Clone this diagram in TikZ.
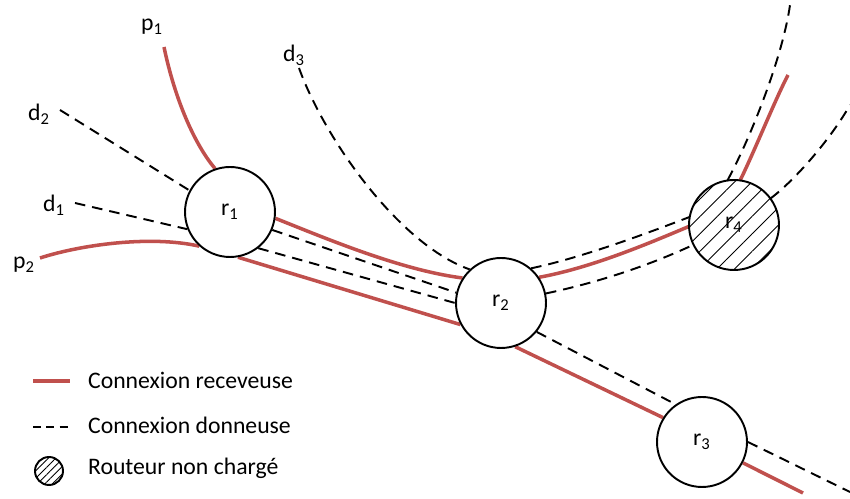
\documentclass[tikz,border=0pt]{standalone}
\usepackage{fontspec}
\setmainfont{Carlito}
\usetikzlibrary{patterns.meta,backgrounds}
\definecolor{recvred}{RGB}{192,80,77}
\def\sub#1#2{#1\textsubscript{#2}}
\tikzset{
  router/.style={circle, draw, line width=1.1pt, fill=white, minimum size=1.8cm, inner sep=0pt, font=\fontsize{13.5}{16}\selectfont},
  hatched/.style={preaction={fill=white}, pattern={Lines[angle=45,distance=#1,line width=0.5pt]}},
  recv/.style={recvred, line width=2pt},
  donor/.style={line width=1.1pt, dash pattern=on 6pt off 4pt},
  lbl/.style={font=\fontsize{13.5}{16}\selectfont, inner sep=1pt}
}

\begin{document}
\begin{tikzpicture}[x=0.02cm, y=-0.02cm]
		%%%%% START %%%%%
		\useasboundingbox (0,0) rectangle (850,499);
		
		% routeurs
		\node[router] (r1) at (230,212) {\sub{r}{1}};
		\node[router] (r2) at (501,303) {\sub{r}{2}};
		\node[router] (r3) at (702,442) {\sub{r}{3}};
		\node[router, hatched=7pt] (r4) at (734,225) {\sub{r}{4}};
		
		% bouts libres
		\coordinate (p1) at (164,47);
		\coordinate (p2) at (40,258);
		\coordinate (d1) at (75,203);
		\coordinate (d2) at (60,110);
		\coordinate (d3) at (299,68);
		\coordinate (p3) at (788,75);
		\coordinate (p4) at (803,493);
		\coordinate (d4) at (790,5);
		\coordinate (d5) at (850,105);
		\coordinate (d6) at (850,492);
		
		\node[lbl] (lp1) at (152,27) {\sub{p}{1}};
		\node[lbl] (lp2) at (24,265) {\sub{p}{2}};
		\node[lbl] (ld1) at (54,205) {\sub{d}{1}};
		\node[lbl] (ld2) at (39,114) {\sub{d}{2}};
		\node[lbl] (ld3) at (294,55) {\sub{d}{3}};
		
		\begin{pgfonlayer}{background}
		% connexions receveuses
		\draw[recv] (p1) .. controls (175,100) and (195,145) .. (r1.109);
		\draw[recv] (p2) .. controls (80,245) and (150,235) .. (r1.228);
		\draw[recv] (r1.-8) .. controls (325,238) and (400,270) .. (r2.147);
		\draw[recv] (r1.-80) -- (r2.208);
		\draw[recv] (r2.34) .. controls (590,268) and (645,245) .. (r4.182);
		\draw[recv] (r4.82) .. controls (755,150) and (775,100) .. (p3);
		\draw[recv] (r2.-72) -- (r3.148);
		\draw[recv] (r3.-27) -- (p4);
		
		% connexions donneuses
		\draw[donor] (d2) -- (r1.152);
		\draw[donor] (d1) -- (r1.202);
		\draw[donor] (r1.-23) -- (r2.167);
		\draw[donor] (r1.-52) -- (r2.180);
		\draw[donor] (d3) .. controls (325,140) and (400,245) .. (r2.133);
		\draw[donor] (r2.49) .. controls (580,258) and (640,236) .. (r4.170);
		\draw[donor] (r2.12) .. controls (600,282) and (650,265) .. (r4.206);
		\draw[donor] (r4.98) .. controls (752,135) and (783,55) .. (d4);
		\draw[donor] (r4.36) .. controls (795,180) and (830,140) .. (d5);
		\draw[donor] (r2.-39) -- (r3.125);
		\draw[donor] (r3.0) -- (d6);
		\end{pgfonlayer}
		
		% legende
		\coordinate (k1a) at (33,381);
		\coordinate (k1b) at (70,381);
		\coordinate (k2a) at (33,427);
		\coordinate (k2b) at (70,427);
		\draw[recv] (k1a) -- (k1b);
		\draw[line width=1.1pt, dash pattern=on 4.6pt off 3pt] (k2a) -- (k2b);
		\node[circle, draw, line width=1.1pt, minimum size=0.56cm, inner sep=0pt, hatched=3pt] (k3) at (49,471) {};
		\node[lbl, anchor=west] (t1) at (86,380) {Connexion receveuse};
		\node[lbl, anchor=west] (t2) at (86,425) {Connexion donneuse};
		\node[lbl, anchor=west] (t3) at (86,468) {Routeur non chargé};
		
		%%%%% END %%%%%
\end{tikzpicture}
\end{document}
